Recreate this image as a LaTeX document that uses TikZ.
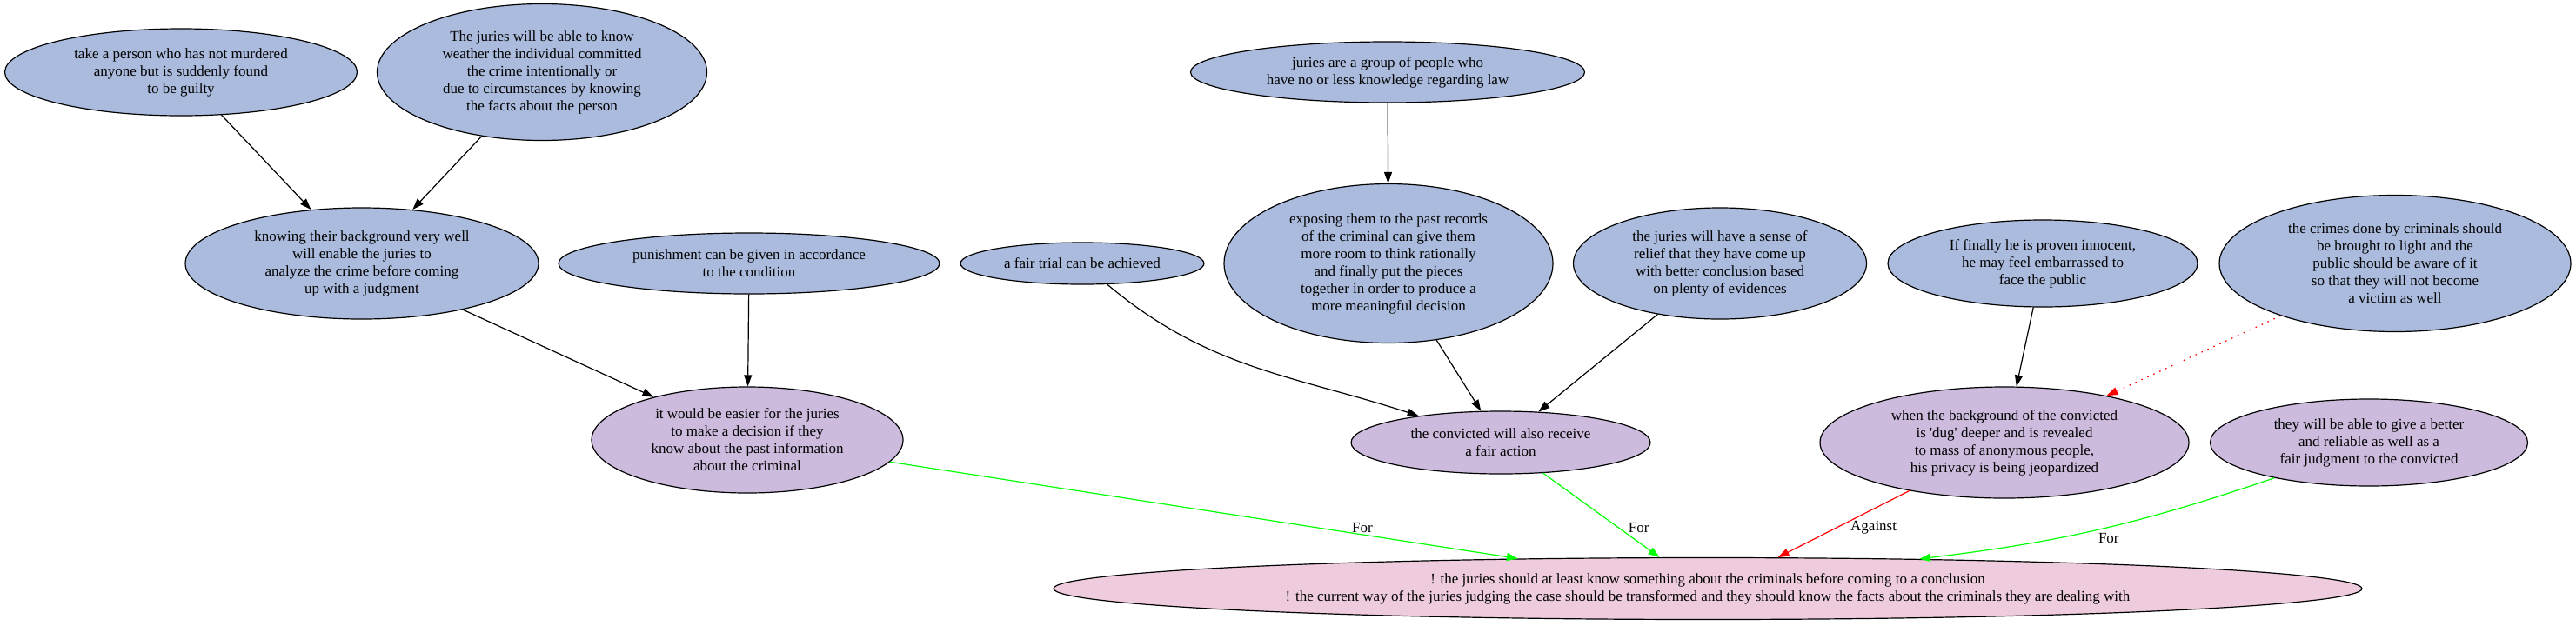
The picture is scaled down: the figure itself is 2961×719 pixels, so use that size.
\documentclass[tikz,border=0pt]{standalone}
\usepackage{fontspec}
\setmainfont{Liberation Serif}
\usepackage{tikz}
\usetikzlibrary{shapes.geometric}
\usetikzlibrary{arrows.meta}
\usepackage{xcolor}
\definecolor{ColPremise}{RGB}{170,187,221}
\definecolor{ColReason}{RGB}{204,187,221}
\definecolor{ColClaim}{RGB}{238,204,221}
\definecolor{ColFor}{RGB}{0,255,0}
\definecolor{ColAgainst}{RGB}{255,0,0}
\tikzstyle{NodeArg}=[ellipse,draw=black,line width=.6pt,inner sep=0pt,align=center,
font=\fontsize{8.5}{10}\selectfont]
\tikzstyle{NodePremise}=[NodeArg,fill=ColPremise]
\tikzstyle{NodeReason}=[NodeArg,fill=ColReason]
\tikzstyle{NodeClaim}=[NodeArg,fill=ColClaim]
\tikzstyle{EdgeArg}=[line width=.6pt,-{Triangle[length=6.5pt,width=4.5pt]}]
\tikzstyle{EdgeFor}=[EdgeArg,ColFor]
\tikzstyle{EdgeAgainst}=[EdgeArg,ColAgainst]
\tikzstyle{EdgeLabel}=[font=\fontsize{8.5}{10}\selectfont,text=black,inner sep=1pt]

\begin{document}
\begin{tikzpicture}[x=.5pt,y=.5pt]
        \useasboundingbox(0,0)rectangle(2961,-719);
        % upper row
        \node[NodePremise,minimum width=202.5pt,minimum height=50pt](a)at(208,-83){take a person who has not murdered\\anyone but is suddenly found\\to be guilty};
        \node[NodePremise,minimum width=189.5pt,minimum height=78.5pt](b)at(623,-83){The juries will be able to know\\weather the individual committed\\the crime intentionally or\\due to circumstances by knowing\\the facts about the person};
        \node[NodePremise,minimum width=226.5pt,minimum height=35pt](f)at(1595,-83){juries are a group of people who\\have no or less knowledge regarding law};
        % middle row
        \node[NodePremise,minimum width=203pt,minimum height=64pt](c)at(416,-303){knowing their background very well\\will enable the juries to\\analyze the crime before coming\\up with a judgment};
        \node[NodePremise,minimum width=219pt,minimum height=35pt](d)at(861,-303){punishment can be given in accordance\\to the condition};
        \node[NodePremise,minimum width=140pt,minimum height=24pt](g)at(1244,-303){a fair trial can be achieved};
        \node[NodePremise,minimum width=189pt,minimum height=91.5pt](h)at(1596,-303){exposing them to the past records\\of the criminal can give them\\more room to think rationally\\and finally put the pieces\\together in order to produce a\\more meaningful decision};
        \node[NodePremise,minimum width=168.5pt,minimum height=64pt](j)at(1977,-303){the juries will have a sense of\\relief that they have come up\\with better conclusion based\\on plenty of evidences};
        \node[NodePremise,minimum width=178pt,minimum height=50pt](k)at(2348,-303){If finally he is proven innocent,\\he may feel embarrassed to\\face the public};
        \node[NodePremise,minimum width=202pt,minimum height=78.5pt](l)at(2753,-303){the crimes done by criminals should\\be brought to light and the\\public should be aware of it\\so that they will not become\\a victim as well};
        % reasons
        \node[NodeReason,minimum width=179pt,minimum height=61pt](e)at(859,-506){it would be easier for the juries\\to make a decision if they\\know about the past information\\about the criminal};
        \node[NodeReason,minimum width=172pt,minimum height=36pt](i)at(1725,-509){the convicted will also receive\\a fair action};
        \node[NodeReason,minimum width=212pt,minimum height=64pt](m)at(2304,-509){when the background of the convicted\\is \textquotesingle dug\textquotesingle{} deeper and is revealed\\to mass of anonymous people,\\his privacy is being jeopardized};
        \node[NodeReason,minimum width=182.5pt,minimum height=50pt](n)at(2723,-509){they will be able to give a better\\and reliable as well as a\\fair judgment to the convicted};
        % claim
        \node[NodeClaim,minimum width=752pt,minimum height=35.5pt](o)at(1963,-677){! the juries should at least know something about the criminals before coming to a conclusion\\! the current way of the juries judging the case should be transformed and they should know the facts about the criminals they are dealing with};
        \draw[EdgeArg](a)--(c);
        \draw[EdgeArg](b)--(c);
        \draw[EdgeArg](c)--(e);
        \draw[EdgeArg](d)--(e);
        \draw[EdgeArg](f)--(h);
        \draw[EdgeArg](g)to[out=-40,in=162](i);
        \draw[EdgeArg](h)--(i);
        \draw[EdgeArg](j)--(i);
        \draw[EdgeArg](k)--(m);
        \draw[EdgeAgainst,dash pattern=on .8pt off 3pt](l)--(m);
        \draw[EdgeFor](e)--(o.171.8)node[EdgeLabel,pos=.68,xshift=26pt]{For};
        \draw[EdgeFor](i)--(o.147.2)node[EdgeLabel,pos=.65,xshift=11.5pt]{For};
        \draw[EdgeAgainst](m)--(o.24.6)node[EdgeLabel,pos=.55,xshift=21pt]{Against};
        \draw[EdgeFor](n)to[bend left=6]node[EdgeLabel,pos=.63,xshift=30pt]{For}(o.8.3);
    \end{tikzpicture}
\end{document}
